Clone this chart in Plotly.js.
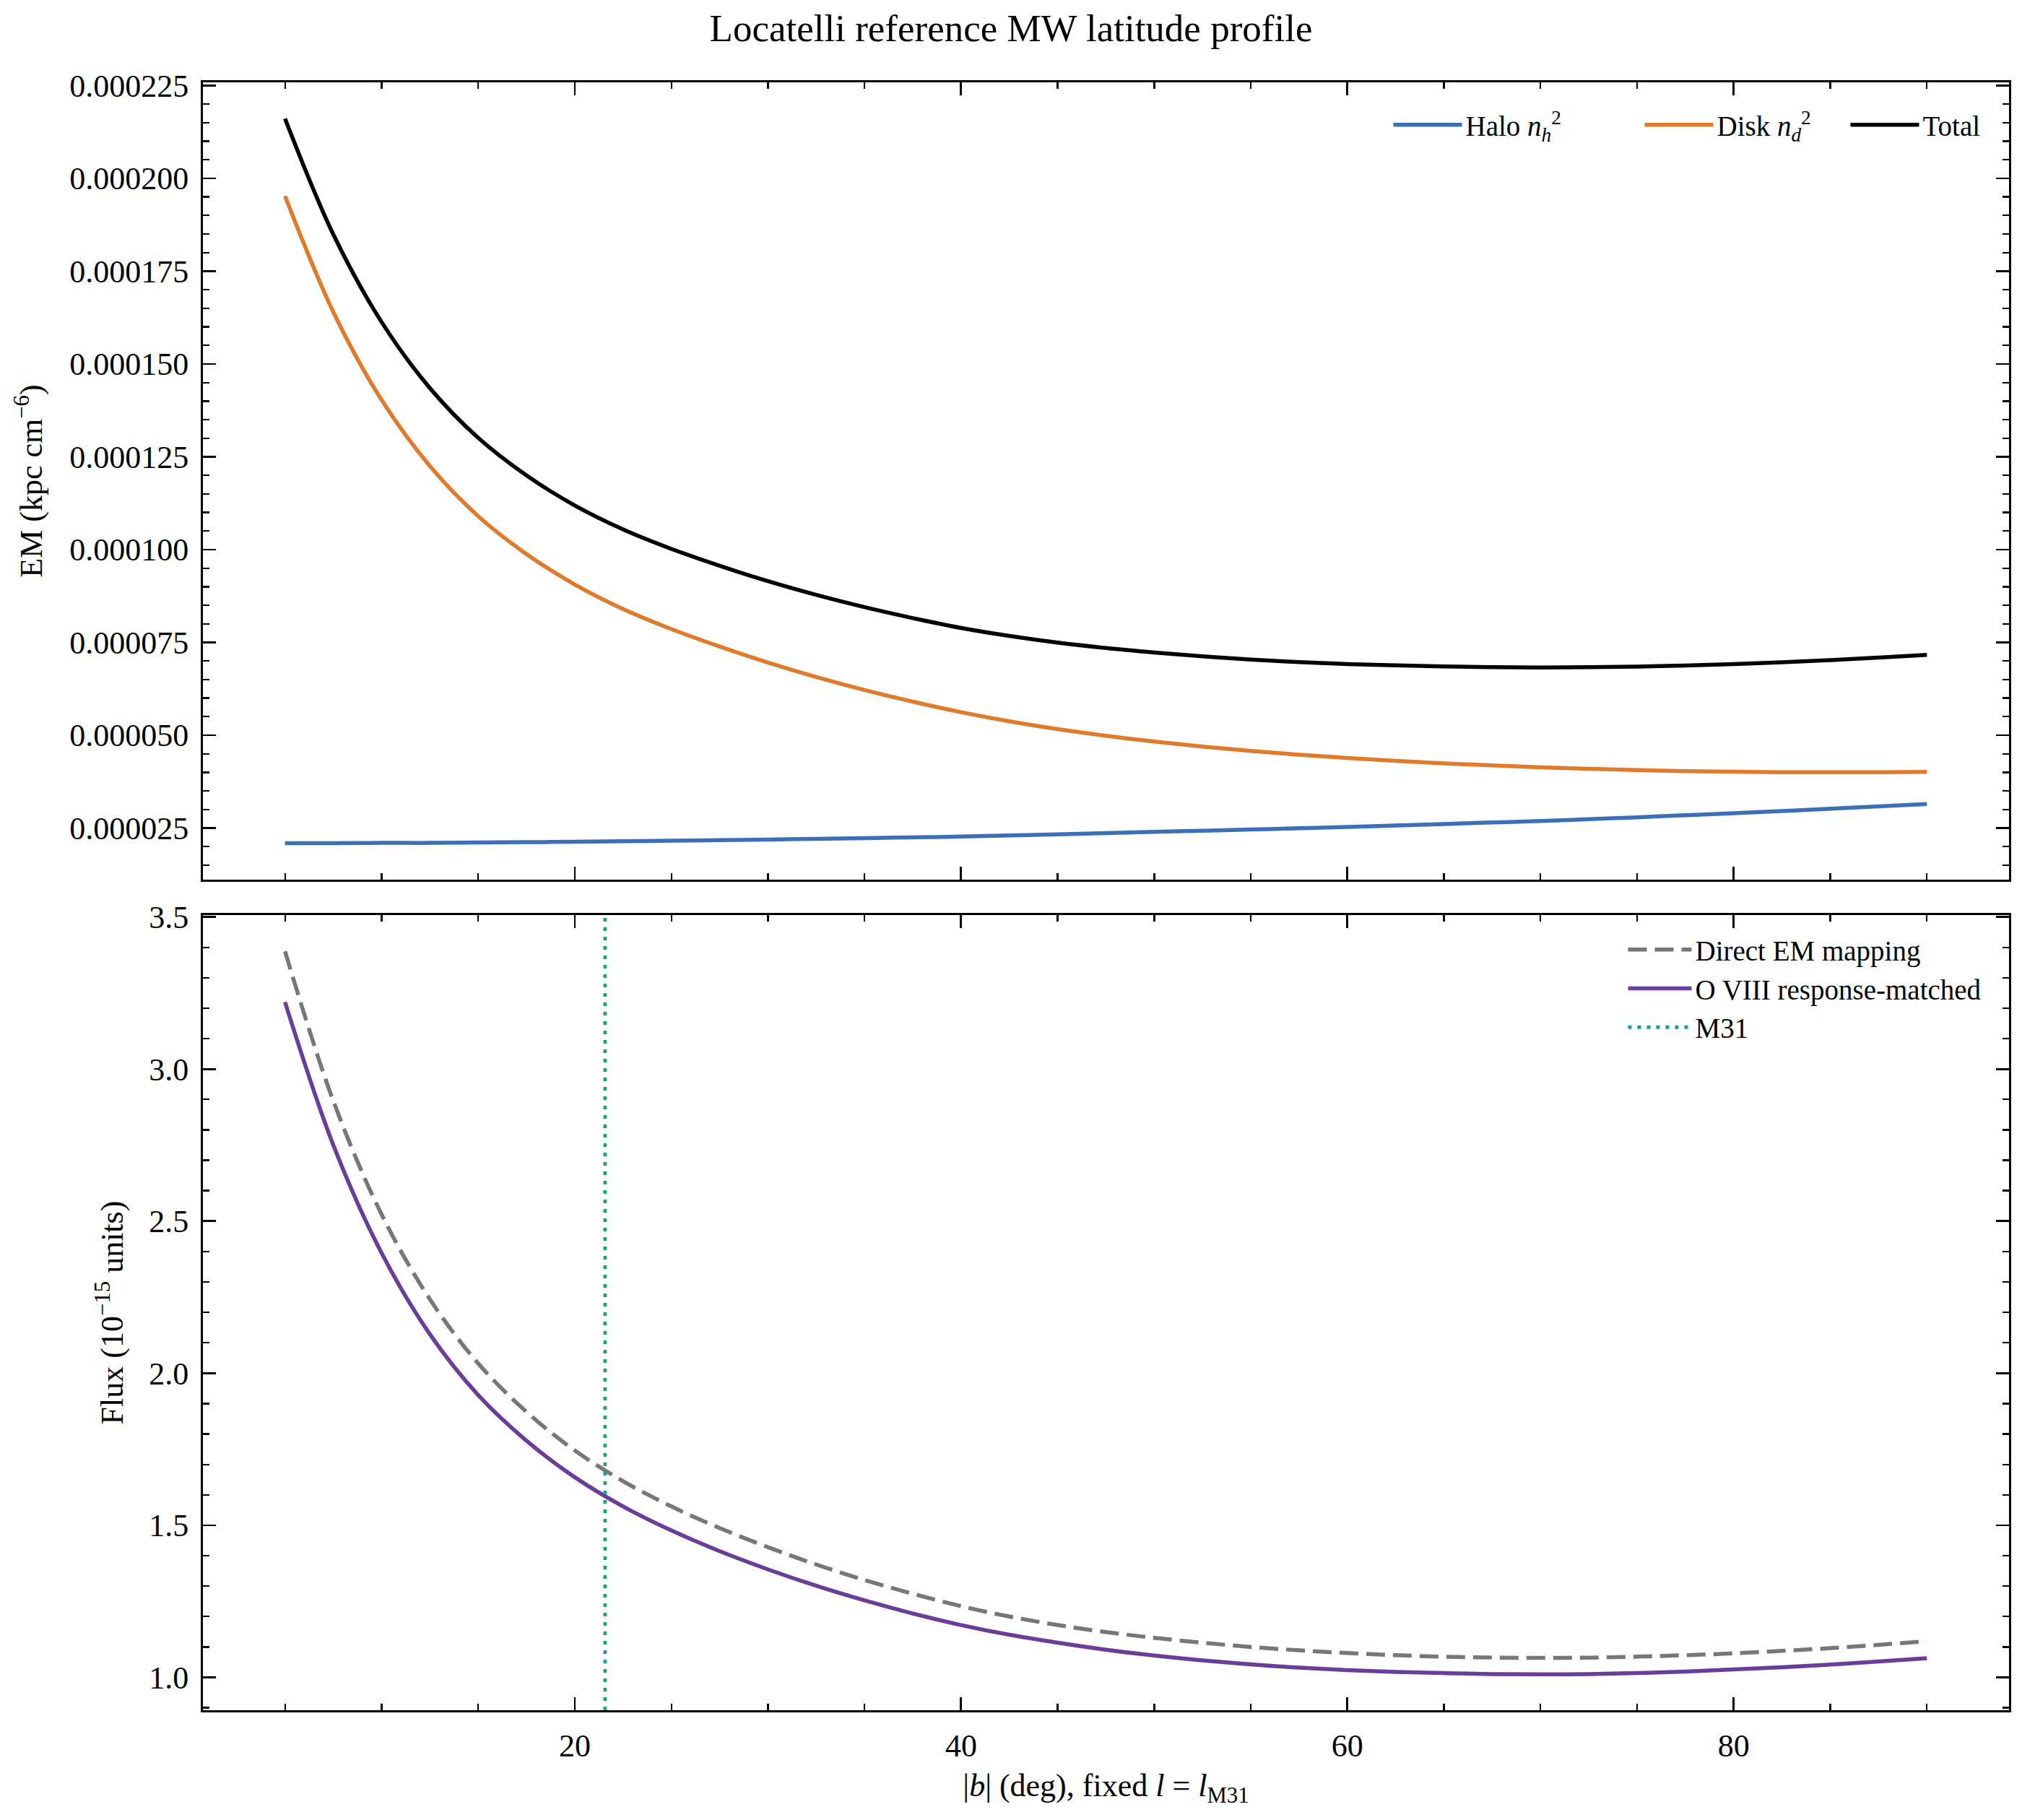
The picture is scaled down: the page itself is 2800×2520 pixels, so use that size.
<!DOCTYPE html>
<html><head><meta charset="utf-8">
<script src="https://cdn.plot.ly/plotly-3.0.1.min.js"></script>
<style>html,body{margin:0;padding:0;background:#fff}</style>
</head><body><div id="chart" style="width:2800px;height:2520px"></div>
<script>
// Galactic latitude |b| (deg)
const latitudeDeg = [5,7.5,10,12.5,15,17.5,20,22.5,25,27.5,30,32.5,35,37.5,40,42.5,45,47.5,50,52.5,55,57.5,60,62.5,65,67.5,70,72.5,75,77.5,80,82.5,85,87.5,90];
// Emission measure (kpc cm^-6), in units of 1e-5
const haloEM5 = [2.09,2.09,2.10,2.10,2.11,2.12,2.13,2.145,2.16,2.175,2.19,2.21,2.23,2.25,2.27,2.30,2.33,2.365,2.40,2.43,2.46,2.495,2.53,2.57,2.61,2.65,2.69,2.74,2.79,2.845,2.90,2.96,3.02,3.085,3.15];
const diskEM5 = [19.52,16.40,14.03,12.25,10.90,9.88,9.06,8.40,7.86,7.39,6.96,6.57,6.22,5.905,5.62,5.375,5.165,4.985,4.83,4.695,4.578,4.476,4.388,4.311,4.244,4.186,4.136,4.094,4.060,4.034,4.016,4.006,4.003,4.006,4.014];
const totalEM5 = [21.61,18.49,16.13,14.35,13.01,12.00,11.19,10.545,10.02,9.565,9.15,8.78,8.45,8.155,7.89,7.675,7.495,7.35,7.23,7.125,7.038,6.971,6.918,6.881,6.854,6.836,6.826,6.834,6.850,6.879,6.916,6.966,7.023,7.091,7.164];
// Flux (1e-15 units)
const fluxDirect = [3.387,2.895,2.522,2.243,2.032,1.873,1.746,1.645,1.562,1.491,1.428,1.371,1.320,1.275,1.234,1.200,1.172,1.149,1.130,1.114,1.100,1.089,1.080,1.073,1.068,1.065,1.064,1.065,1.068,1.073,1.079,1.087,1.096,1.107,1.119];
const fluxOVIII = [3.22,2.75,2.395,2.128,1.928,1.778,1.658,1.562,1.483,1.415,1.355,1.301,1.253,1.210,1.172,1.140,1.114,1.091,1.072,1.056,1.043,1.032,1.024,1.018,1.014,1.011,1.010,1.011,1.014,1.019,1.026,1.033,1.042,1.052,1.063];
// M31 latitude marker (deg)
const m31Lat = 21.57;

const scale = (arr) => arr.map(v => v * 1e-5);
const xRange = [0.75, 94.25];
const yRangeTop = [1.11e-5, 2.2586e-4];
const yRangeBottom = [0.892, 3.506];

const FONT = "Liberation Serif, Times New Roman, serif";
const LW = 5.5;
const SPL = {shape: "spline", smoothing: 1};

const traces = [
  {x: latitudeDeg, y: scale(haloEM5), name: "Halo <i>n</i><sub><i>h</i></sub><sup>2</sup>", type: "scatter", mode: "lines",
   line: Object.assign({color: "#3b70b8", width: LW}, SPL), xaxis: "x", yaxis: "y", legend: "legend", legendwidth: 238},
  {x: latitudeDeg, y: scale(diskEM5), name: "Disk <i>n</i><sub><i>d</i></sub><sup>2</sup>", type: "scatter", mode: "lines",
   line: Object.assign({color: "#e07b2c", width: LW}, SPL), xaxis: "x", yaxis: "y", legend: "legend", legendwidth: 175},
  {x: latitudeDeg, y: scale(totalEM5), name: "Total", type: "scatter", mode: "lines",
   line: Object.assign({color: "#000000", width: LW}, SPL), xaxis: "x", yaxis: "y", legend: "legend", legendwidth: 82},
  {x: latitudeDeg, y: fluxDirect, name: "Direct EM mapping", type: "scatter", mode: "lines",
   line: Object.assign({color: "#777777", width: LW, dash: "26px,11px"}, SPL), xaxis: "x2", yaxis: "y2", legend: "legend2"},
  {x: latitudeDeg, y: fluxOVIII, name: "O VIII response-matched", type: "scatter", mode: "lines",
   line: Object.assign({color: "#6a3d9a", width: LW}, SPL), xaxis: "x2", yaxis: "y2", legend: "legend2"},
  {x: [m31Lat, m31Lat], y: yRangeBottom, name: "M31", type: "scatter", mode: "lines",
   line: {color: "#1f9e8c", width: 4.8, dash: "5px,8px"}, xaxis: "x2", yaxis: "y2", legend: "legend2"}
];

function axisBase(extra) {
  return Object.assign({
    showline: true, linecolor: "#000", linewidth: 3, mirror: "allticks",
    ticks: "inside", ticklen: 18, tickwidth: 2.8, tickcolor: "#000",
    showgrid: false, zeroline: false,
    tickfont: {family: FONT, size: 44, color: "#000"},
  }, extra);
}
const minorBase = (dt) => ({ticks: "inside", ticklen: 9, tickwidth: 2.3, tickcolor: "#000", dtick: dt});

const plotH = 2520 - 114 - 152;
const topBottom = (2368 - 1218) / plotH;
const botTop = (2368 - 1267) / plotH;

const layout = {
  width: 2800, height: 2520,
  paper_bgcolor: "#fff", plot_bgcolor: "#fff",
  margin: {l: 281, r: 18, t: 114, b: 152},
  font: {family: FONT, color: "#000"},
  title: {text: "Locatelli reference MW latitude profile", font: {family: FONT, size: 53, color: "#000"},
          xref: "container", x: 0.5, xanchor: "center", yref: "container", y: 1 - 38/2520, yanchor: "middle"},
  showlegend: true,
  xaxis: axisBase({range: xRange, domain: [0, 1], anchor: "y", dtick: 20, tick0: 0, showticklabels: false,
    minor: minorBase(5)}),
  yaxis: axisBase({range: yRangeTop, domain: [topBottom, 1], anchor: "x", dtick: 2.5e-5, tick0: 0, tickformat: ".6f",
    ticklabelstandoff: 8, minor: minorBase(5e-6),
    title: {text: "EM (kpc cm<sup>−6</sup>)", font: {family: FONT, size: 44, color: "#000"}, standoff: 24}, automargin: true}),
  xaxis2: axisBase({range: xRange, domain: [0, 1], anchor: "y2", matches: "x", dtick: 20, tick0: 0,
    ticklabelstandoff: 8, minor: minorBase(5),
    title: {text: "|<i>b</i>| (deg), fixed <i>l</i> = <i>l</i><sub>M31</sub>", font: {family: FONT, size: 44, color: "#000"}, standoff: 16}, automargin: true}),
  yaxis2: axisBase({range: yRangeBottom, domain: [0, botTop], anchor: "x2", dtick: 0.5, tick0: 0, tickformat: ".1f",
    ticklabelstandoff: 8, minor: minorBase(0.1),
    title: {text: "Flux (10<sup>−15</sup> units)", font: {family: FONT, size: 44, color: "#000"}, standoff: 22}, automargin: true}),
  legend: {orientation: "h", xref: "paper", yref: "paper", x: 0.987, xanchor: "right", y: (2368-173)/plotH, yanchor: "middle",
    bgcolor: "rgba(0,0,0,0)", borderwidth: 0, font: {family: FONT, size: 39, color: "#000"}, itemwidth: 95, traceorder: "normal"},
  legend2: {orientation: "v", xref: "paper", yref: "paper", x: 0.987, xanchor: "right", y: (2368-1283)/plotH, yanchor: "top",
    bgcolor: "rgba(0,0,0,0)", borderwidth: 0, font: {family: FONT, size: 39, color: "#000"}, itemwidth: 88, traceorder: "normal"}
};

Plotly.newPlot("chart", traces, layout, {staticPlot: true, displayModeBar: false});
</script></body></html>
